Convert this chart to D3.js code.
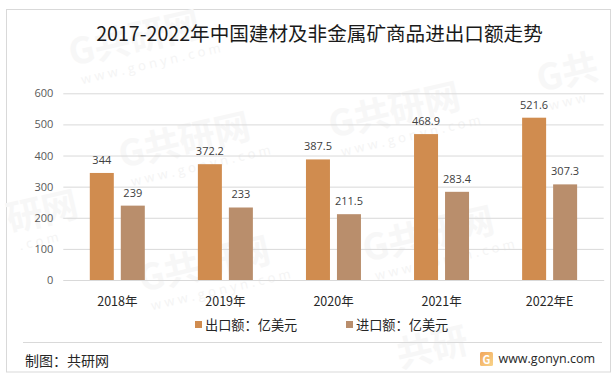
<!DOCTYPE html>
<html>
<head>
<meta charset="utf-8">
<script src="https://cdn.jsdelivr.net/npm/d3@7"></script>
<style>
  html, body { margin: 0; padding: 0; background: #fff; }
  svg { display: block; }
  text { font-family: "Noto Sans CJK SC", "Noto Sans", sans-serif; }
  .num { font-family: "Open Sans", "Noto Sans", sans-serif; }
</style>
</head>
<body>
<div id="chart"></div>
<script>
const years = ['2018年', '2019年', '2020年', '2021年', '2022年E'];
const seriesNames = ['出口额：亿美元', '进口额：亿美元'];
const exportValues = [344, 372.2, 387.5, 468.9, 521.6];
const importValues = [239, 233, 211.5, 283.4, 307.3];
const yTicks = [0, 100, 200, 300, 400, 500, 600];
const colors = ['#d08c4f', '#b98e6c'];

const width = 616, height = 379;

const svg = d3.select('#chart').append('svg')
    .attr('width', width)
    .attr('height', height);

svg.append('rect')
    .attr('x', 6.5).attr('y', 9.5)
    .attr('width', 604).attr('height', 362.5)
    .attr('fill', '#fff')
    .attr('stroke', '#d9d9d9');

// faint site watermarks behind the chart, partial ones where the original runs off the frame
const marks = [
    [72, 66, 'G共研网', 'www.gonyn.com'],
    [122, 168, 'G共研网', 'www.gonyn.com'],
    [142, 292, 'G共研网', 'www.gonyn.com'],
    [332, 138, 'G共研网', 'www.gonyn.com'],
    [366, 262, 'G共研网', 'www.gonyn.com'],
    [540, 92, 'G共', 'www'],
    [10, 232, '研网', '.com'],
    [400, 368, '共研', '']
];
const wm = svg.append('g').attr('class', 'watermark');
marks.forEach(([mx, my, big, small]) => {
    const g = wm.append('g').attr('transform', `translate(${mx},${my}) rotate(-13)`);
    g.append('text')
        .attr('font-size', 36).attr('font-weight', 700)
        .attr('fill', '#f7f7f7')
        .text(big);
    g.append('text')
        .attr('x', 6).attr('y', 20)
        .attr('class', 'num')
        .attr('font-size', 13)
        .attr('letter-spacing', 3.5)
        .attr('fill', '#f4f4f4')
        .text(small);
});

const x = d3.scaleBand().domain(years).range([63.3, 603.7]);
const xInner = d3.scaleBand()
    .domain(seriesNames)
    .range([26.5, 81.5])
    .paddingInner(7 / 31);
const y = d3.scaleLinear().domain([0, 600]).range([280, 93.3]);

const yAxis = d3.axisLeft(y).tickValues(yTicks).tickSize(-(603.7 - 63.3)).tickPadding(9);
const gy = svg.append('g')
    .attr('transform', 'translate(63.3,0)')
    .call(yAxis);
gy.select('.domain').remove();
gy.selectAll('line').attr('stroke', '#d9d9d9');
gy.selectAll('text')
    .attr('class', 'num')
    .attr('font-size', 11)
    .attr('fill', '#595959')
    .attr('dx', -1);

const xAxis = d3.axisBottom(x).tickSize(0).tickPadding(17);
const gx = svg.append('g')
    .attr('transform', 'translate(0,280)')
    .call(xAxis);
gx.select('.domain').attr('stroke', '#d9d9d9');
gx.selectAll('text')
    .attr('font-size', 12.5)
    .attr('fill', '#262626');

const series = [exportValues, importValues];
series.forEach((values, i) => {
    const name = seriesNames[i];
    const g = svg.append('g');
    g.selectAll('rect')
        .data(values)
        .enter()
        .append('rect')
        .attr('x', (d, j) => x(years[j]) + xInner(name))
        .attr('y', d => y(d))
        .attr('width', xInner.bandwidth())
        .attr('height', d => y(0) - y(d))
        .attr('fill', colors[i]);
    g.selectAll('text')
        .data(values)
        .enter()
        .append('text')
        .attr('class', 'num')
        .attr('x', (d, j) => x(years[j]) + xInner(name) + xInner.bandwidth() / 2)
        .attr('y', d => y(d) - 9)
        .attr('text-anchor', 'middle')
        .attr('font-size', 11)
        .attr('fill', '#404040')
        .text(d => d);
});

svg.append('text')
    .attr('x', 319.5).attr('y', 41)
    .attr('text-anchor', 'middle')
    .attr('font-size', 19.6)
    .attr('fill', '#1a1a1a')
    .text('2017-2022年中国建材及非金属矿商品进出口额走势');

// legend
const legendX = [195, 346];
seriesNames.forEach((name, i) => {
    svg.append('rect')
        .attr('x', legendX[i]).attr('y', 321)
        .attr('width', 7).attr('height', 7)
        .attr('fill', colors[i]);
    svg.append('text')
        .attr('x', legendX[i] + 10).attr('y', 330)
        .attr('font-size', 13.2)
        .attr('fill', '#262626')
        .text(name);
});

// footer
svg.append('line')
    .attr('x1', 23).attr('x2', 602)
    .attr('y1', 342.5).attr('y2', 342.5)
    .attr('stroke', '#d9d9d9');
svg.append('text')
    .attr('x', 25).attr('y', 365.5)
    .attr('font-size', 14)
    .attr('fill', '#262626')
    .text('制图：共研网');

const grad = svg.append('defs').append('linearGradient')
    .attr('id', 'logoGrad')
    .attr('x1', 0).attr('x2', 1).attr('y1', 0).attr('y2', 1);
grad.append('stop').attr('offset', 0).attr('stop-color', '#f2a65a');
grad.append('stop').attr('offset', 1).attr('stop-color', '#f8d48a');
svg.append('rect')
    .attr('x', 480).attr('y', 352)
    .attr('width', 13).attr('height', 14)
    .attr('rx', 1.5)
    .attr('fill', 'url(#logoGrad)');
svg.append('text')
    .attr('x', 486.5).attr('y', 363.5)
    .attr('text-anchor', 'middle')
    .attr('font-size', 11).attr('font-weight', 700)
    .attr('fill', '#fff')
    .text('G');
svg.append('text')
    .attr('class', 'num')
    .attr('x', 498.5).attr('y', 363)
    .attr('font-size', 12.5)
    .attr('fill', '#262626')
    .text('www.gonyn.com');
</script>
</body>
</html>
